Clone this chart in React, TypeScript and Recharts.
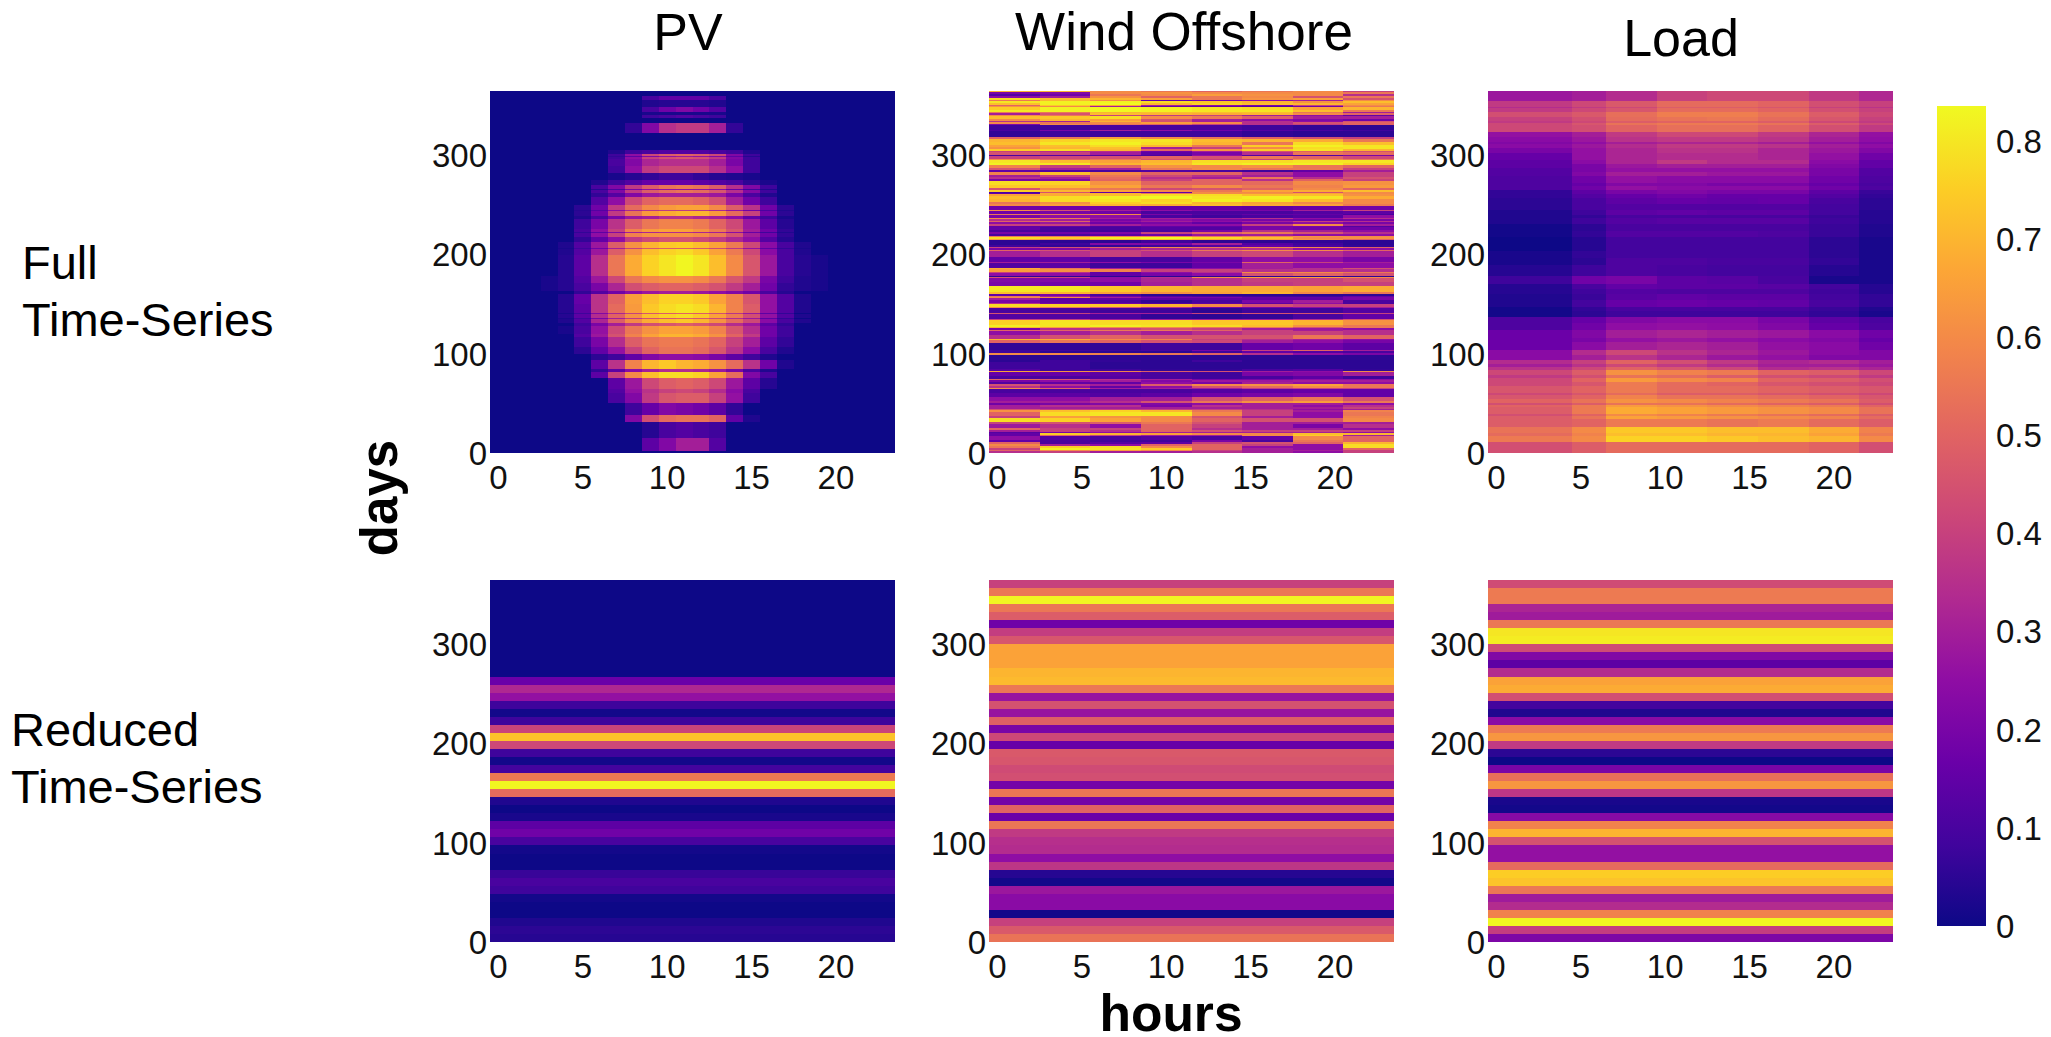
import { Bar, BarChart, Cell, XAxis, YAxis } from 'recharts';

const hours = [0, 1, 2, 3, 4, 5, 6, 7, 8, 9, 10, 11, 12, 13, 14, 15, 16, 17, 18, 19, 20, 21, 22, 23];
const hourTicks = [0, 5, 10, 15, 20];
const dayTicks = [0, 100, 200, 300];
const scaleTicks = [0, 0.1, 0.2, 0.3, 0.4, 0.5, 0.6, 0.7, 0.8];
const scaleMax = 0.836;
const plasmaStops = ['#0d0887', '#41049d', '#6a00a8', '#8f0da4', '#b12a90', '#cc4778', '#e16462', '#f2844b', '#fca636', '#fcce25', '#f0f921'];

// every row: [days covered, levels in hundredths...], listed from the top of the plot down
// PV full levels start at hour 3, anything past the end of the row is zero
const pvFullRows = [
  [5],
  [4, 0, 0, 0, 0, 0, 0, 10, 15, 15, 15, 10],
  [7, 0, 0, 0, 0, 0, 0, 3, 4, 4, 4, 3],
  [5, 0, 0, 0, 0, 0, 0, 10, 18, 22, 18, 12],
  [3, 0, 0, 0, 0, 0, 0, 2, 2, 2, 2, 2],
  [3, 0, 0, 0, 0, 0, 0, 8, 10, 12, 10, 8],
  [5],
  [10, 0, 0, 0, 0, 0, 6, 22, 35, 38, 38, 30, 6],
  [17],
  [5, 0, 0, 0, 0, 3, 8, 10, 12, 12, 12, 10, 8, 3],
  [2, 0, 0, 0, 0, 8, 25, 42, 48, 50, 48, 42, 22, 8],
  [1, 0, 0, 0, 0, 6, 14, 22, 26, 28, 26, 22, 14, 4],
  [2, 0, 0, 0, 0, 8, 25, 40, 44, 46, 44, 38, 22, 8],
  [7, 0, 0, 0, 0, 10, 22, 32, 35, 35, 35, 30, 20, 8],
  [7, 0, 0, 0, 0, 8, 25, 38, 42, 42, 42, 35, 25, 8],
  [7, 0, 0, 0, 0, 2, 4, 6, 8, 8, 6, 4, 3, 2],
  [5, 0, 0, 0, 3, 8, 12, 16, 16, 16, 14, 12, 10, 5, 2],
  [4, 0, 0, 0, 10, 22, 38, 48, 54, 56, 54, 48, 35, 22, 8],
  [1, 0, 0, 0, 4, 10, 20, 26, 26, 26, 26, 24, 16, 8, 3],
  [3, 0, 0, 0, 10, 22, 38, 48, 52, 54, 52, 46, 35, 22, 8],
  [4, 0, 0, 0, 6, 12, 22, 28, 30, 30, 30, 28, 20, 10, 3],
  [8, 0, 0, 0, 12, 25, 42, 50, 52, 52, 50, 44, 30, 18, 8],
  [5, 0, 0, 5, 18, 38, 52, 60, 64, 66, 66, 60, 48, 36, 18, 5],
  [1, 0, 0, 4, 12, 24, 32, 36, 38, 38, 36, 32, 26, 18, 10, 3],
  [5, 0, 0, 5, 18, 38, 54, 64, 68, 70, 70, 64, 52, 40, 18, 5],
  [3, 0, 0, 3, 10, 20, 28, 30, 35, 35, 32, 30, 25, 15, 8, 2],
  [10, 0, 0, 8, 20, 36, 48, 55, 58, 58, 56, 50, 42, 28, 14, 4],
  [3, 0, 0, 10, 25, 40, 58, 64, 66, 66, 62, 56, 46, 30, 18, 6],
  [1, 0, 0, 6, 14, 22, 30, 32, 34, 34, 32, 30, 24, 16, 8, 3],
  [4, 0, 0, 10, 25, 40, 58, 62, 62, 62, 60, 55, 45, 30, 18, 6],
  [5, 0, 0, 6, 15, 25, 38, 42, 45, 45, 42, 38, 32, 25, 12, 4],
  [6, 0, 3, 12, 28, 48, 62, 70, 74, 75, 72, 66, 56, 42, 24, 10, 3],
  [1, 0, 2, 8, 18, 30, 40, 46, 48, 48, 46, 42, 36, 26, 14, 6, 2],
  [6, 0, 3, 12, 28, 48, 62, 72, 76, 78, 74, 66, 56, 42, 24, 10, 3],
  [22, 0, 4, 14, 35, 55, 68, 76, 80, 83, 80, 72, 60, 46, 28, 10, 4, 2],
  [7, 2, 4, 12, 28, 42, 55, 60, 62, 62, 60, 55, 46, 38, 20, 8, 3, 2],
  [8, 2, 4, 10, 20, 32, 44, 48, 50, 50, 48, 45, 38, 30, 18, 6, 3, 2],
  [3, 0, 0, 6, 12, 18, 24, 28, 30, 30, 28, 25, 22, 18, 10, 4],
  [10, 0, 4, 16, 36, 50, 65, 72, 76, 76, 74, 66, 58, 46, 26, 12, 3],
  [9, 0, 4, 14, 36, 52, 64, 74, 78, 80, 78, 70, 58, 48, 26, 12, 3],
  [1, 0, 2, 8, 22, 32, 40, 46, 48, 50, 48, 44, 36, 28, 14, 6],
  [4, 0, 4, 14, 34, 50, 62, 72, 76, 78, 74, 66, 56, 44, 26, 12, 3],
  [1, 0, 2, 8, 20, 30, 38, 44, 46, 48, 46, 42, 34, 28, 14, 6],
  [4, 0, 3, 12, 32, 48, 60, 68, 72, 74, 70, 62, 52, 42, 24, 10, 3],
  [3, 0, 0, 8, 20, 30, 38, 44, 46, 48, 46, 42, 34, 28, 14, 6],
  [8, 0, 2, 10, 26, 42, 55, 62, 66, 66, 64, 58, 46, 34, 18, 8],
  [3, 0, 0, 12, 28, 45, 58, 66, 70, 70, 68, 62, 50, 38, 18, 8],
  [10, 0, 0, 8, 20, 34, 48, 54, 56, 56, 54, 50, 40, 30, 14, 6],
  [7, 0, 0, 5, 15, 26, 40, 50, 54, 54, 52, 46, 36, 24, 10, 3],
  [6, 0, 0, 0, 5, 8, 15, 22, 25, 25, 24, 20, 14, 8, 3],
  [9, 0, 0, 0, 14, 36, 58, 70, 74, 70, 68, 62, 52, 36, 18, 3],
  [3, 0, 0, 0, 6, 14, 24, 30, 34, 34, 32, 28, 20, 10, 3],
  [6, 0, 0, 0, 14, 40, 60, 72, 78, 78, 76, 66, 52, 22, 10],
  [11, 0, 0, 0, 0, 14, 28, 42, 48, 50, 48, 42, 28, 14, 4],
  [5, 0, 0, 0, 0, 12, 26, 36, 40, 42, 40, 34, 24, 10],
  [10, 0, 0, 0, 0, 10, 22, 38, 46, 48, 48, 40, 26, 8],
  [12, 0, 0, 0, 0, 0, 8, 16, 22, 20, 18, 14, 6],
  [7, 0, 0, 0, 0, 0, 22, 44, 52, 54, 54, 50, 15, 3],
  [16, 0, 0, 0, 0, 0, 0, 4, 10, 12, 10, 8],
  [13, 0, 0, 0, 0, 0, 0, 14, 22, 30, 30, 12],
  [2],
];

// three hours per level
const windFullRows = [
  [1, 70, 70, 60, 55, 50, 55, 60, 40],
  [2, 20, 22, 60, 62, 60, 60, 60, 55],
  [2, 12, 18, 55, 60, 65, 62, 60, 35],
  [2, 25, 30, 62, 50, 55, 60, 45, 55],
  [2, 78, 72, 70, 65, 55, 62, 65, 45],
  [1, 55, 70, 60, 15, 20, 25, 30, 60],
  [2, 80, 82, 82, 78, 74, 70, 62, 72],
  [2, 72, 82, 84, 70, 76, 72, 70, 66],
  [1, 50, 74, 66, 30, 25, 20, 40, 60],
  [1, 62, 60, 30, 15, 15, 12, 18, 55],
  [3, 75, 82, 83, 82, 80, 78, 66, 70],
  [2, 80, 82, 84, 82, 80, 80, 72, 55],
  [1, 55, 55, 70, 72, 72, 72, 55, 30],
  [2, 30, 45, 72, 70, 68, 70, 60, 50],
  [1, 60, 55, 40, 38, 40, 30, 25, 15],
  [3, 72, 74, 78, 60, 55, 48, 30, 30],
  [2, 60, 70, 65, 45, 30, 25, 22, 18],
  [1, 35, 30, 70, 45, 30, 35, 25, 45],
  [2, 60, 55, 60, 65, 60, 35, 45, 50],
  [1, 22, 60, 55, 50, 40, 35, 40, 50],
  [5, 8, 8, 10, 10, 10, 8, 6, 5],
  [1, 10, 20, 30, 25, 18, 12, 10, 8],
  [6, 6, 8, 8, 8, 8, 6, 5, 5],
  [2, 50, 55, 65, 60, 55, 50, 45, 40],
  [3, 70, 76, 80, 80, 72, 70, 68, 55],
  [3, 72, 80, 82, 78, 70, 55, 78, 72],
  [2, 66, 72, 78, 70, 55, 75, 82, 80],
  [2, 62, 70, 72, 30, 40, 60, 78, 80],
  [2, 75, 78, 70, 50, 62, 75, 80, 70],
  [2, 40, 35, 35, 18, 30, 45, 50, 45],
  [3, 45, 40, 30, 14, 20, 35, 55, 52],
  [1, 10, 12, 12, 10, 25, 12, 12, 20],
  [3, 40, 42, 45, 50, 45, 55, 50, 42],
  [1, 60, 50, 55, 45, 40, 40, 60, 55],
  [3, 80, 72, 66, 70, 78, 78, 80, 80],
  [2, 82, 80, 70, 72, 80, 82, 82, 76],
  [3, 58, 40, 50, 62, 60, 62, 55, 50],
  [2, 45, 30, 30, 55, 60, 55, 55, 40],
  [2, 15, 12, 10, 12, 10, 8, 15, 30],
  [3, 58, 72, 60, 50, 50, 35, 25, 40],
  [2, 30, 40, 55, 42, 35, 30, 25, 40],
  [2, 35, 30, 52, 35, 30, 55, 35, 45],
  [2, 20, 22, 50, 40, 50, 35, 50, 40],
  [4, 78, 76, 62, 50, 50, 52, 60, 62],
  [3, 74, 72, 66, 55, 60, 55, 58, 64],
  [2, 45, 60, 55, 42, 45, 50, 60, 50],
  [2, 75, 70, 66, 60, 55, 66, 68, 72],
  [1, 10, 45, 15, 15, 60, 60, 45, 60],
  [1, 15, 68, 70, 55, 60, 62, 66, 60],
  [2, 66, 68, 72, 78, 78, 72, 72, 62],
  [3, 72, 78, 82, 84, 80, 82, 80, 68],
  [3, 70, 78, 80, 76, 82, 80, 72, 60],
  [2, 55, 62, 75, 78, 70, 66, 60, 60],
  [2, 60, 66, 70, 68, 72, 68, 66, 56],
  [4, 18, 18, 18, 15, 15, 14, 16, 18],
  [1, 60, 45, 30, 25, 20, 20, 30, 40],
  [3, 18, 20, 18, 10, 10, 10, 12, 14],
  [1, 55, 55, 60, 20, 12, 15, 15, 10],
  [3, 20, 25, 25, 10, 8, 10, 12, 25],
  [1, 60, 55, 30, 30, 30, 35, 25, 35],
  [2, 35, 30, 20, 25, 22, 20, 18, 20],
  [1, 50, 50, 25, 30, 25, 30, 40, 35],
  [2, 25, 28, 18, 20, 15, 20, 25, 20],
  [2, 40, 40, 30, 25, 25, 40, 60, 30],
  [1, 15, 15, 12, 15, 15, 20, 20, 12],
  [3, 15, 10, 10, 12, 12, 20, 18, 18],
  [2, 10, 8, 8, 10, 20, 35, 30, 25],
  [2, 20, 18, 22, 40, 50, 55, 45, 35],
  [2, 10, 10, 14, 18, 28, 30, 25, 25],
  [1, 55, 55, 58, 58, 55, 58, 62, 60],
  [2, 78, 75, 82, 84, 78, 72, 60, 62],
  [1, 65, 60, 70, 72, 68, 65, 62, 50],
  [3, 5, 5, 5, 8, 5, 5, 6, 5],
  [2, 5, 8, 22, 20, 30, 12, 8, 5],
  [2, 8, 6, 6, 8, 12, 15, 10, 6],
  [1, 40, 45, 50, 60, 55, 60, 60, 50],
  [2, 20, 22, 30, 32, 35, 35, 25, 25],
  [1, 50, 45, 40, 45, 55, 60, 60, 50],
  [6, 30, 35, 40, 35, 40, 42, 35, 30],
  [5, 15, 15, 10, 10, 15, 25, 25, 20],
  [1, 30, 30, 25, 20, 20, 50, 40, 30],
  [5, 12, 14, 8, 8, 15, 30, 25, 25],
  [1, 68, 55, 30, 25, 25, 30, 35, 45],
  [3, 65, 62, 58, 40, 40, 35, 35, 35],
  [1, 20, 25, 15, 15, 25, 45, 40, 40],
  [1, 40, 35, 15, 25, 35, 60, 60, 55],
  [3, 25, 25, 15, 20, 25, 45, 50, 45],
  [1, 5, 5, 5, 5, 5, 5, 5, 5],
  [1, 45, 40, 25, 35, 60, 66, 66, 60],
  [4, 22, 22, 25, 32, 35, 40, 40, 45],
  [4, 20, 18, 18, 30, 35, 38, 40, 40],
  [6, 80, 80, 74, 70, 68, 68, 66, 68],
  [2, 72, 70, 66, 62, 66, 70, 60, 55],
  [2, 15, 20, 10, 5, 5, 5, 5, 5],
  [1, 55, 30, 18, 12, 10, 8, 8, 15],
  [1, 60, 60, 30, 20, 20, 15, 15, 20],
  [2, 30, 14, 15, 14, 14, 14, 14, 20],
  [3, 20, 14, 10, 6, 10, 20, 30, 10],
  [1, 35, 20, 18, 12, 14, 14, 25, 10],
  [3, 78, 76, 74, 70, 60, 45, 40, 40],
  [1, 60, 55, 45, 35, 20, 20, 25, 30],
  [5, 10, 10, 8, 8, 5, 8, 8, 12],
  [1, 45, 40, 30, 30, 40, 45, 45, 40],
  [5, 12, 12, 10, 6, 5, 6, 10, 15],
  [1, 40, 40, 30, 30, 30, 30, 35, 45],
  [5, 76, 80, 78, 78, 74, 74, 70, 62],
  [2, 82, 80, 82, 80, 78, 72, 62, 55],
  [1, 70, 65, 60, 60, 55, 55, 45, 55],
  [2, 20, 35, 40, 45, 40, 30, 28, 25],
  [1, 50, 50, 55, 55, 50, 40, 30, 35],
  [4, 25, 30, 35, 30, 35, 40, 40, 35],
  [4, 35, 45, 50, 45, 45, 45, 55, 50],
  [1, 70, 68, 60, 58, 40, 35, 30, 25],
  [3, 50, 55, 50, 45, 42, 30, 25, 20],
  [7, 6, 6, 6, 8, 8, 16, 18, 14],
  [1, 8, 8, 8, 10, 20, 40, 50, 30],
  [2, 8, 5, 5, 5, 8, 15, 12, 10],
  [2, 60, 60, 58, 55, 50, 35, 25, 20],
  [5, 5, 5, 5, 5, 5, 5, 5, 5],
  [2, 5, 8, 6, 5, 8, 5, 5, 5],
  [7, 8, 8, 5, 5, 5, 5, 5, 5],
  [2, 12, 8, 8, 6, 6, 10, 12, 6],
  [1, 66, 62, 58, 48, 45, 30, 25, 60],
  [4, 16, 16, 14, 10, 8, 20, 22, 30],
  [3, 10, 10, 12, 10, 8, 10, 14, 8],
  [1, 50, 45, 35, 30, 20, 20, 25, 25],
  [2, 20, 25, 30, 22, 28, 28, 30, 30],
  [2, 12, 15, 15, 25, 20, 30, 25, 25],
  [2, 45, 35, 30, 48, 60, 62, 66, 55],
  [2, 35, 25, 15, 25, 45, 52, 60, 55],
  [1, 60, 50, 30, 30, 30, 38, 40, 40],
  [5, 10, 10, 10, 10, 12, 14, 16, 15],
  [4, 14, 14, 12, 14, 18, 20, 22, 15],
  [4, 25, 25, 30, 30, 45, 50, 55, 45],
  [2, 30, 30, 35, 45, 55, 62, 65, 55],
  [2, 18, 20, 22, 22, 25, 30, 30, 25],
  [2, 30, 35, 35, 20, 35, 30, 25, 35],
  [2, 30, 30, 30, 30, 30, 30, 30, 40],
  [1, 45, 40, 40, 40, 40, 35, 25, 30],
  [2, 62, 72, 76, 70, 55, 40, 30, 58],
  [4, 50, 78, 80, 80, 60, 40, 25, 55],
  [2, 40, 65, 62, 60, 45, 30, 25, 58],
  [4, 78, 76, 66, 60, 50, 45, 45, 60],
  [2, 40, 45, 48, 55, 45, 30, 30, 30],
  [4, 28, 35, 25, 50, 40, 30, 20, 35],
  [2, 50, 40, 40, 50, 35, 30, 30, 25],
  [2, 30, 40, 35, 50, 45, 40, 40, 40],
  [1, 12, 20, 25, 30, 30, 30, 30, 25],
  [2, 15, 75, 70, 66, 60, 60, 72, 70],
  [1, 15, 50, 40, 30, 30, 60, 75, 30],
  [4, 25, 12, 10, 12, 10, 15, 60, 50],
  [2, 15, 10, 8, 8, 20, 10, 55, 50],
  [2, 50, 10, 12, 14, 40, 45, 50, 70],
  [2, 60, 30, 25, 50, 50, 40, 25, 78],
  [2, 55, 75, 78, 60, 50, 25, 25, 78],
  [2, 40, 82, 80, 75, 50, 30, 25, 50],
  [1, 50, 60, 65, 60, 40, 30, 30, 40],
  [2, 35, 40, 30, 30, 35, 30, 25, 40],
];

// the load profile steps at hours 5 and 7, so its levels cover uneven runs of hours
const loadLevelOfHour = [0, 0, 0, 0, 0, 1, 1, 2, 2, 2, 3, 3, 3, 4, 4, 4, 5, 5, 5, 6, 6, 6, 7, 7];
const loadFullRows = [
  [10, 28, 30, 34, 40, 42, 42, 38, 33],
  [6, 38, 42, 47, 52, 52, 50, 44, 40],
  [1, 34, 38, 42, 48, 48, 46, 40, 36],
  [4, 38, 42, 46, 52, 52, 50, 44, 40],
  [5, 44, 47, 53, 57, 57, 54, 48, 42],
  [4, 40, 44, 52, 54, 55, 52, 46, 40],
  [2, 38, 42, 48, 50, 50, 48, 42, 38],
  [2, 42, 46, 54, 56, 56, 54, 48, 42],
  [7, 42, 44, 50, 53, 53, 50, 44, 38],
  [5, 26, 30, 38, 42, 42, 38, 32, 26],
  [5, 24, 28, 36, 38, 38, 36, 30, 25],
  [2, 22, 25, 30, 32, 32, 30, 26, 22],
  [4, 24, 28, 34, 38, 38, 36, 30, 25],
  [6, 20, 26, 32, 36, 36, 32, 28, 22],
  [7, 16, 26, 32, 34, 34, 32, 26, 18],
  [4, 14, 24, 32, 38, 34, 34, 24, 15],
  [4, 14, 20, 28, 30, 30, 30, 22, 15],
  [4, 12, 20, 26, 26, 26, 26, 20, 12],
  [4, 12, 22, 30, 30, 28, 28, 20, 12],
  [7, 11, 18, 26, 24, 24, 24, 18, 11],
  [3, 11, 16, 22, 22, 20, 20, 16, 10],
  [4, 11, 18, 26, 24, 24, 24, 18, 11],
  [4, 6, 14, 20, 22, 20, 20, 14, 7],
  [4, 6, 12, 16, 18, 16, 16, 12, 6],
  [6, 5, 10, 14, 16, 15, 16, 10, 5],
  [6, 5, 10, 12, 12, 12, 12, 9, 5],
  [5, 3, 8, 14, 15, 14, 14, 9, 4],
  [3, 3, 6, 10, 10, 10, 10, 7, 4],
  [6, 3, 8, 12, 13, 13, 13, 8, 4],
  [7, 1, 5, 10, 10, 10, 10, 7, 3],
  [6, 1, 6, 12, 12, 12, 11, 7, 3],
  [14, 0, 4, 9, 9, 9, 9, 5, 2],
  [7, 2, 6, 9, 9, 9, 9, 5, 2],
  [7, 2, 5, 11, 11, 10, 10, 6, 2],
  [12, 4, 8, 11, 10, 9, 9, 4, 2],
  [8, 8, 18, 20, 14, 13, 10, 2, 2],
  [5, 4, 10, 15, 14, 14, 13, 9, 4],
  [5, 4, 8, 12, 11, 11, 11, 8, 4],
  [6, 3, 7, 13, 15, 14, 14, 9, 6],
  [7, 3, 9, 16, 17, 16, 15, 10, 6],
  [4, 1, 6, 10, 10, 10, 10, 7, 3],
  [6, 1, 5, 8, 8, 8, 8, 6, 2],
  [6, 11, 16, 22, 24, 24, 20, 14, 10],
  [7, 11, 18, 25, 26, 25, 22, 16, 11],
  [8, 17, 22, 30, 32, 30, 28, 24, 18],
  [4, 17, 20, 26, 28, 26, 24, 22, 16],
  [8, 17, 24, 30, 32, 30, 26, 24, 18],
  [5, 24, 34, 42, 36, 32, 28, 24, 22],
  [5, 24, 30, 36, 32, 28, 26, 22, 22],
  [4, 34, 40, 50, 44, 38, 32, 34, 30],
  [3, 30, 36, 42, 38, 34, 30, 30, 28],
  [3, 36, 42, 50, 46, 42, 34, 36, 32],
  [5, 42, 48, 62, 58, 56, 50, 48, 42],
  [3, 38, 44, 54, 52, 48, 44, 42, 38],
  [4, 42, 50, 64, 60, 58, 50, 48, 44],
  [4, 42, 46, 56, 52, 50, 46, 44, 42],
  [7, 46, 50, 56, 52, 52, 50, 48, 46],
  [3, 42, 46, 52, 48, 48, 46, 44, 42],
  [4, 46, 50, 58, 54, 54, 52, 50, 46],
  [4, 50, 54, 62, 60, 58, 56, 54, 48],
  [2, 44, 48, 54, 54, 52, 50, 48, 44],
  [2, 50, 56, 64, 62, 60, 58, 56, 50],
  [7, 48, 56, 68, 66, 64, 62, 60, 54],
  [2, 44, 50, 60, 58, 56, 54, 52, 48],
  [3, 48, 54, 66, 64, 62, 60, 58, 52],
  [8, 48, 50, 56, 56, 54, 56, 52, 48],
  [6, 54, 60, 74, 74, 72, 72, 68, 58],
  [3, 52, 58, 72, 72, 70, 70, 66, 56],
  [6, 56, 60, 76, 76, 74, 72, 70, 60],
  [11, 44, 48, 52, 52, 52, 52, 50, 44],
];

// reduced series: one level per band, all bands equally tall, top of the plot first
const pvReducedBands = [
  0, 0, 0, 0, 0, 0, 0, 0, 0, 0, 0, 0, 17, 33, 26, 8, 1, 8, 41, 73, 42, 8, 1, 9, 56, 83, 52, 3, 0, 2, 14, 18, 10, 1, 0, 0,
  7, 10, 8, 1, 0, 0, 3, 5, 4,
];
const windReducedBands = [
  40, 55, 83, 55, 48, 18, 39, 46, 66, 66, 66, 70, 71, 55, 27, 45, 27, 49, 20, 42, 16, 47, 46, 43, 44, 19, 55, 19, 50, 17,
  55, 38, 35, 34, 25, 37, 4, 1, 28, 24, 24, 1, 40, 47, 54,
];
const loadReducedBands = [
  43, 56, 56, 32, 29, 55, 80, 81, 43, 22, 14, 34, 66, 68, 44, 9, 3, 24, 56, 63, 38, 5, 0, 20, 53, 63, 37, 2, 1, 23, 58,
  70, 45, 26, 26, 52, 75, 73, 55, 29, 34, 58, 83, 39, 21,
];
const bandDays = 365 / 45;

const plotWidth = 405;
const plotHeight = 362;
const axisGutter = 80;
const topGap = 10;
const axisHeight = 60;
const tickStyle = { fill: '#111', fontSize: 33, fontFamily: 'Liberation Sans' };

function plasma(level: number) {
  const t = Math.min(1, Math.max(0, level / 100 / scaleMax)) * (plasmaStops.length - 1);
  const i = Math.min(plasmaStops.length - 2, Math.floor(t));
  const mix = (p: number) => {
    const a = parseInt(plasmaStops[i].slice(p, p + 2), 16);
    const b = parseInt(plasmaStops[i + 1].slice(p, p + 2), 16);
    return Math.round(a + (b - a) * (t - i));
  };
  return `rgb(${mix(1)},${mix(3)},${mix(5)})`;
}

function bandRows(bands: number[]) {
  return bands.map((level) => [bandDays, level]);
}

// recharts floors the bar width, so widen every bar around its centre to fill the hour
function HeatCell({ x, y, width, height, fill }: any) {
  const hourWidth = plotWidth / hours.length;
  return <rect x={x + width / 2 - hourWidth / 2} y={y} width={hourWidth} height={height} fill={fill} shapeRendering="crispEdges" />;
}

interface HeatPanelProps {
  left: number;
  top: number;
  rows: number[][];
  levelAt: (row: number[], hour: number) => number;
}

function HeatPanel({ left, top, rows, levelAt }: HeatPanelProps) {
  const bottomUp = [...rows].reverse();
  const table = hours.map((hour) => {
    const entry: Record<string, number> = { hour };
    bottomUp.forEach((row, i) => {
      entry[`r${i}`] = row[0];
    });
    return entry;
  });
  return (
    <div style={{ position: 'absolute', left: left - axisGutter, top: top - topGap }}>
      <BarChart
        width={axisGutter + plotWidth + 20}
        height={topGap + plotHeight + axisHeight}
        data={table}
        margin={{ top: topGap, right: 20, bottom: 0, left: 0 }}
        barCategoryGap={0}
      >
        <XAxis
          dataKey="hour"
          ticks={hourTicks}
          interval={0}
          height={axisHeight}
          axisLine={false}
          tickLine={false}
          tickSize={0}
          tickMargin={13}
          tick={tickStyle}
        />
        <YAxis
          type="number"
          domain={[0, 365]}
          ticks={dayTicks}
          interval={0}
          width={axisGutter}
          axisLine={false}
          tickLine={false}
          tickSize={0}
          tickMargin={3}
          tick={tickStyle}
        />
        {bottomUp.map((row, i) => (
          <Bar key={i} dataKey={`r${i}`} stackId="heat" isAnimationActive={false} shape={HeatCell}>
            {hours.map((hour) => (
              <Cell key={hour} fill={plasma(levelAt(row, hour))} />
            ))}
          </Bar>
        ))}
      </BarChart>
    </div>
  );
}

function ColorScale() {
  return (
    <div style={{ position: 'absolute', left: 1937 - 10, top: 106 - 10 }}>
      <BarChart
        width={120}
        height={880}
        data={[{ name: 'scale', value: scaleMax }]}
        margin={{ top: 10, right: 0, bottom: 50, left: 10 }}
        barCategoryGap={0}
      >
        <defs>
          <linearGradient id="plasmaScale" x1="0" y1="1" x2="0" y2="0">
            {plasmaStops.map((color, i) => (
              <stop key={color} offset={i / (plasmaStops.length - 1)} stopColor={color} />
            ))}
          </linearGradient>
        </defs>
        <XAxis dataKey="name" hide />
        <YAxis
          orientation="right"
          type="number"
          domain={[0, scaleMax]}
          ticks={scaleTicks}
          interval={0}
          width={61}
          axisLine={false}
          tickLine={false}
          tickSize={0}
          tickMargin={10}
          tick={tickStyle}
          tickFormatter={(v: number) => String(v)}
        />
        <Bar dataKey="value" fill="url(#plasmaScale)" isAnimationActive={false} />
      </BarChart>
    </div>
  );
}

function Label({ x, y, size, bold, rotate, children }: { x: number; y: number; size: number; bold?: boolean; rotate?: boolean; children: string }) {
  return (
    <div
      style={{
        position: 'absolute',
        left: x,
        top: y,
        transform: `translate(-50%, -50%)${rotate ? ' rotate(-90deg)' : ''}`,
        fontFamily: 'Liberation Sans',
        fontSize: size,
        lineHeight: 0.85,
        fontWeight: bold ? 700 : 400,
        color: '#000',
        whiteSpace: 'nowrap',
      }}
    >
      {children}
    </div>
  );
}

function SideLabel({ x, y, lines }: { x: number; y: number; lines: string[] }) {
  return (
    <div
      style={{
        position: 'absolute',
        left: x,
        top: y,
        fontFamily: 'Liberation Sans',
        fontSize: 47,
        lineHeight: '56.7px',
        color: '#000',
        whiteSpace: 'nowrap',
      }}
    >
      {lines.map((line) => (
        <div key={line}>{line}</div>
      ))}
    </div>
  );
}

const pvLevel = (row: number[], hour: number) => (hour < 3 ? 0 : row[hour - 2] ?? 0);
const windLevel = (row: number[], hour: number) => row[Math.floor(hour / 3) + 1];
const loadLevel = (row: number[], hour: number) => row[loadLevelOfHour[hour] + 1];
const bandLevel = (row: number[]) => row[1];

export default function App() {
  return (
    <div style={{ position: 'absolute', left: 0, top: 0, width: 2051, height: 1037, background: '#fff', overflow: 'hidden' }}>
      <Label x={688} y={31.5} size={52}>PV</Label>
      <Label x={1184} y={31.5} size={53}>Wind Offshore</Label>
      <Label x={1681} y={38} size={52}>Load</Label>
      <SideLabel x={22} y={235} lines={['Full', 'Time-Series']} />
      <SideLabel x={11} y={702} lines={['Reduced', 'Time-Series']} />
      <Label x={380} y={498} size={51} bold rotate>days</Label>
      <Label x={1171} y={1014} size={51.5} bold>hours</Label>

      <HeatPanel left={489.5} top={90.5} rows={pvFullRows} levelAt={pvLevel} />
      <HeatPanel left={988.7} top={90.5} rows={windFullRows} levelAt={windLevel} />
      <HeatPanel left={1488} top={90.5} rows={loadFullRows} levelAt={loadLevel} />
      <HeatPanel left={489.5} top={580} rows={bandRows(pvReducedBands)} levelAt={bandLevel} />
      <HeatPanel left={988.7} top={580} rows={bandRows(windReducedBands)} levelAt={bandLevel} />
      <HeatPanel left={1488} top={580} rows={bandRows(loadReducedBands)} levelAt={bandLevel} />
      <ColorScale />
    </div>
  );
}
